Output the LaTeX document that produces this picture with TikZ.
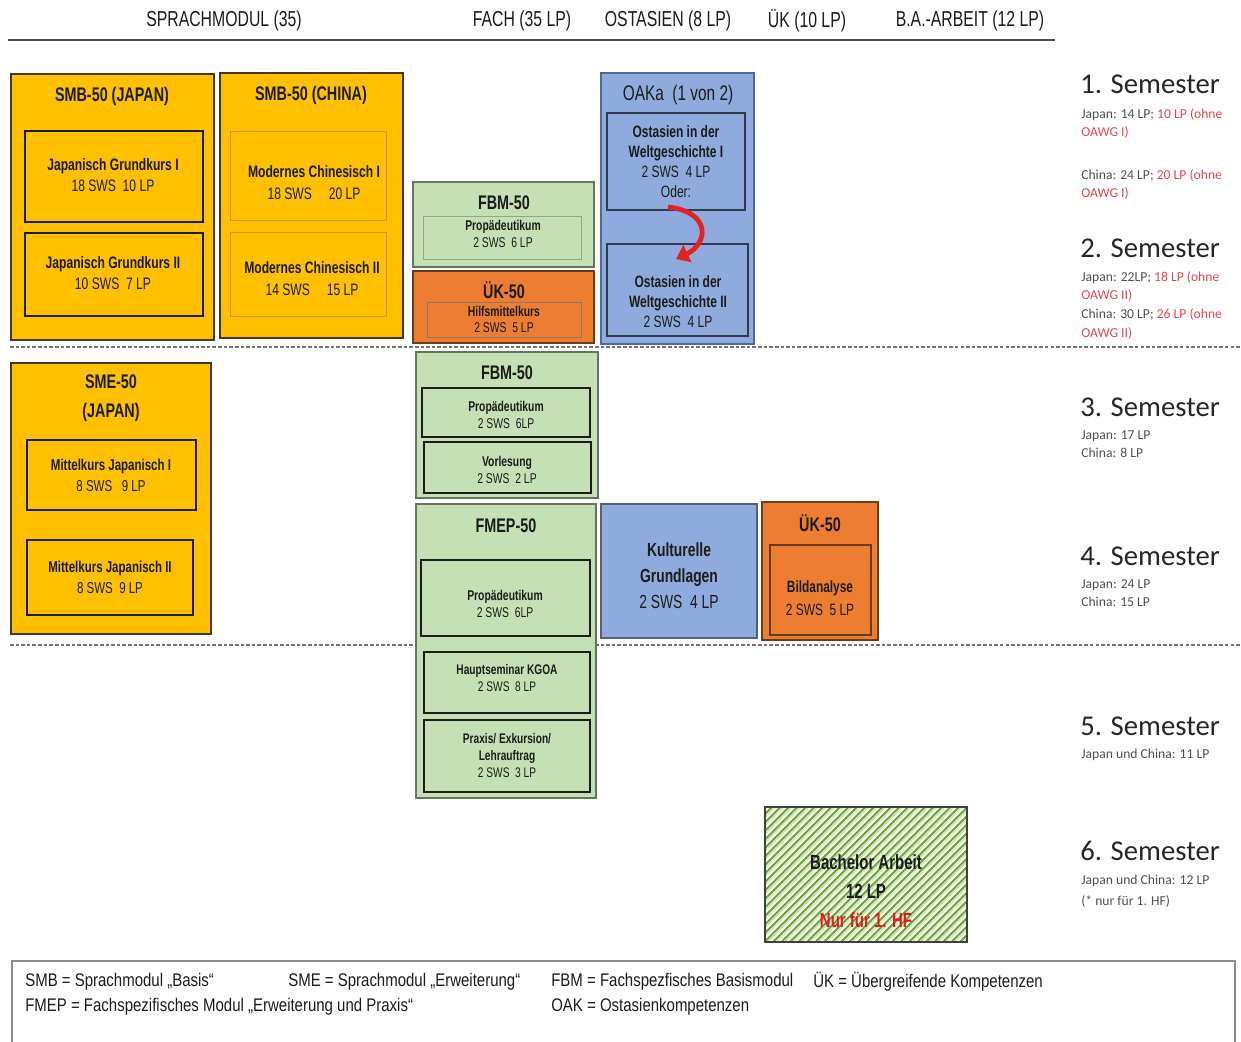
\documentclass[tikz,border=0pt]{standalone}
\usepackage{fontspec}
\setmainfont{Liberation Sans}[FakeStretch=0.73]
\newfontfamily\legfont{Liberation Sans}[FakeStretch=0.82]
\newfontfamily\semfont{Carlito}
\usetikzlibrary{fit,arrows.meta}
\definecolor{gold}{HTML}{FFC000}
\definecolor{goldline}{HTML}{43381A}
\definecolor{goldthin}{HTML}{C8962A}
\definecolor{lgreen}{HTML}{C5E0B4}
\definecolor{greenline}{HTML}{66765E}
\definecolor{greenthin}{HTML}{8FA886}
\definecolor{ukorange}{HTML}{ED7D31}
\definecolor{orangeline}{HTML}{6A3B1C}
\definecolor{oakblue}{HTML}{8FAADC}
\definecolor{blueline}{HTML}{506A98}
\definecolor{bluedark}{HTML}{2E3A4E}
\definecolor{redtext}{HTML}{E2474C}
\definecolor{subgray}{HTML}{505050}
\definecolor{textdark}{HTML}{1C1C1C}
\definecolor{stripegreen}{HTML}{62A63A}
\definecolor{stripelight}{HTML}{D3E6A6}
\definecolor{oderred}{HTML}{E52222}
\definecolor{bared}{HTML}{E41B1B}
\tikzset{
  gelb/.style={draw=goldline, fill=gold, line width=1.4pt, inner sep=0pt},
  gruen/.style={draw=greenline, fill=lgreen, line width=1.4pt, inner sep=0pt},
  ukbox/.style={draw=orangeline, fill=ukorange, line width=1.4pt, inner sep=0pt},
  oakbox/.style={draw=blueline, fill=oakblue, line width=1.4pt, inner sep=0pt},
  kurs/.style={draw=#1, line width=1.1pt, inner sep=0pt},
  kurs/.default=textdark,
  txt/.style={align=center, inner sep=0pt, text=textdark},
  titel/.style={font=\fontsize{14}{15}\selectfont\bfseries, text=textdark},
  kopf/.style={font=\fontsize{15.4}{16}\selectfont, text=textdark},
  sem/.style={font=\semfont\fontsize{20.4}{24}\selectfont, anchor=west, inner sep=0pt, text=black!85},
  semtext/.style={font=\semfont\fontsize{9.7}{13.3}\selectfont, anchor=north west, align=left, inner sep=0pt, text=subgray},
  legende/.style={font=\legfont\fontsize{13}{16}\selectfont, anchor=west, inner sep=0pt, text=textdark},
  trenn/.style={draw=black!55, line width=1.1pt, dash pattern=on 2.5pt off 1.5pt},
  oder/.style={draw=oderred, line width=3.4pt, -{Triangle[length=9pt,width=13pt]}},
  streifen/.style={draw=stripegreen, line width=1.4pt},
  streifenhell/.style={draw=stripelight, line width=1.2pt}
}
\begin{document}
\begin{tikzpicture}[x=0.025cm,y=-0.025cm]
\useasboundingbox[fill=white] (0,0) rectangle (1241,1041);

\node[kopf] (hsprache) at (224,21) {SPRACHMODUL (35)};
\node[kopf] (hfach) at (522,21) {FACH (35 LP)};
\node[kopf] (hostasien) at (668,21) {OSTASIEN (8 LP)};
\node[kopf] (huk) at (807,21) {ÜK (10 LP)};
\node[kopf] (hba) at (970,21) {B.A.-ARBEIT (12 LP)};
\coordinate (kopfl) at (8,40);
\coordinate (kopfr) at (1055,40);
\draw[black!70, line width=1.4pt] (kopfl) -- (kopfr);

\coordinate (t1l) at (10,347);
\coordinate (t1r) at (1241,347);
\coordinate (t2l) at (10,645);
\coordinate (t2r) at (1241,645);
\draw[trenn] (t1l) -- (t1r);
\draw[trenn] (t2l) -- (t2r);

\node[gelb, fit={(11,74)(214,340)}] (smbjp) {};
\node[titel] (smbjpt) at (112,96) {SMB-50 (JAPAN)};
\node[kurs, fit={(25,131)(203,222)}] (jgk1) {};
\node[txt, font=\fontsize{11.8}{15}\selectfont] (jgk1t) at (113,175.5) {{\bfseries Japanisch Grundkurs I}\\18 SWS\ \ 10 LP};
\node[kurs, fit={(25,233)(203,316)}] (jgk2) {};
\node[txt, font=\fontsize{11.8}{15}\selectfont] (jgk2t) at (113,273) {{\bfseries Japanisch Grundkurs II}\\10 SWS\ \ 7 LP};

\node[gelb, fit={(220,73)(403,338)}] (smbcn) {};
\node[titel] (smbcnt) at (311,95) {SMB-50 (CHINA)};
\node[kurs=goldthin, line width=0.6pt, fit={(230,131)(386,220)}] (mc1) {};
\node[txt, font=\fontsize{11.8}{15.6}\selectfont] (mc1t) at (314,183) {{\bfseries Modernes Chinesisch I}\\18 SWS\ \ \ \ \ 20 LP};
\node[kurs=goldthin, line width=0.6pt, fit={(230,232)(386,316)}] (mc2) {};
\node[txt, font=\fontsize{11.8}{15.6}\selectfont] (mc2t) at (312,279) {{\bfseries Modernes Chinesisch II}\\14 SWS\ \ \ \ \ 15 LP};

\node[gruen, fit={(413,182)(594,267)}] (fbm1) {};
\node[titel] (fbm1t) at (504,203) {FBM-50};
\node[kurs=greenthin, line width=0.7pt, fit={(423,216)(581,259)}] (prop1) {};
\node[txt, font=\fontsize{10.1}{12}\selectfont] (prop1t) at (503,233.5) {{\bfseries Propädeutikum}\\2 SWS\ \ 6 LP};

\node[ukbox, fit={(413,271)(594,343)}] (uk1) {};
\node[titel] (uk1t) at (504,290) {ÜK-50};
\node[kurs=orangeline!70, line width=0.7pt, fit={(427,302)(581,337)}] (hilf) {};
\node[txt, font=\fontsize{10.1}{11.4}\selectfont] (hilft) at (504,319) {{\bfseries Hilfsmittelkurs}\\2 SWS\ \ 5 LP};

\node[oakbox, fit={(601,73)(754,344)}] (oak) {};
\node[font=\fontsize{15}{16}\selectfont, text=textdark] (oakt) at (678,95) {OAKa\ \ (1 von 2)};
\node[kurs=bluedark, fit={(607,113)(745,210)}] (oawg1) {};
\node[txt, font=\fontsize{11.7}{14.2}\selectfont] (oawg1t) at (676,162) {{\bfseries Ostasien in der}\\{\bfseries Weltgeschichte I}\\2 SWS\ \ 4 LP\\Oder:};
\node[kurs=bluedark, fit={(607,244)(748,336)}] (oawg2) {};
\node[txt, font=\fontsize{11.7}{14.2}\selectfont] (oawg2t) at (678,302) {{\bfseries Ostasien in der}\\{\bfseries Weltgeschichte II}\\2 SWS\ \ 4 LP};
\coordinate (odera) at (668,207);
\coordinate (oderb) at (676,259);
\draw[oder] (odera) .. controls (712,212) and (708,244) .. (oderb);

\node[gelb, fit={(11,363)(211,634)}] (smejp) {};
\node[titel, align=center, font=\fontsize{14}{20.5}\selectfont\bfseries] (smejpt) at (111,398) {SME-50\\(JAPAN)};
\node[kurs, fit={(27,440)(196,510)}] (mk1) {};
\node[txt, font=\fontsize{11.2}{15}\selectfont] (mk1t) at (111,475.5) {{\bfseries Mittelkurs Japanisch I}\\8 SWS\ \ \ 9 LP};
\node[kurs, fit={(27,540)(193,615)}] (mk2) {};
\node[txt, font=\fontsize{11.2}{15}\selectfont] (mk2t) at (110,577.5) {{\bfseries Mittelkurs Japanisch II}\\8 SWS\ \ 9 LP};

\node[gruen, fit={(416,352)(598,498)}] (fbm3) {};
\node[titel] (fbm3t) at (507,373) {FBM-50};
\node[kurs, fit={(422,388)(590,437)}] (prop3) {};
\node[txt, font=\fontsize{10.1}{12}\selectfont] (prop3t) at (506,414.5) {{\bfseries Propädeutikum}\\2 SWS\ \ 6LP};
\node[kurs, fit={(424,442)(591,493)}] (vorl) {};
\node[txt, font=\fontsize{10.1}{12}\selectfont] (vorlt) at (507,469.5) {{\bfseries Vorlesung}\\2 SWS\ \ 2 LP};

\node[gruen, fit={(416,504)(596,798)}] (fmep) {};
\node[titel] (fmept) at (506,526) {FMEP-50};
\node[kurs, fit={(421,560)(590,636)}] (prop5) {};
\node[txt, font=\fontsize{10.1}{12}\selectfont] (prop5t) at (505,604) {{\bfseries Propädeutikum}\\2 SWS\ \ 6LP};
\node[kurs, fit={(424,652)(590,713)}] (haupt) {};
\node[txt, font=\fontsize{9.9}{12.5}\selectfont] (hauptt) at (507,678) {{\bfseries Hauptseminar KGOA}\\2 SWS\ \ 8 LP};
\node[kurs, fit={(424,720)(590,792)}] (praxis) {};
\node[txt, font=\fontsize{9.9}{12.3}\selectfont] (praxist) at (507,755.5) {{\bfseries Praxis/ Exkursion/}\\{\bfseries Lehrauftrag}\\2 SWS\ \ 3 LP};

\node[oakbox, draw=bluedark!80, fit={(601,504)(757,638)}] (kultur) {};
\node[txt, font=\fontsize{13.5}{18.5}\selectfont] (kulturt) at (679,576) {{\bfseries Kulturelle}\\{\bfseries Grundlagen}\\2 SWS\ \ 4 LP};

\node[ukbox, fit={(762,502)(878,640)}] (uk4) {};
\node[titel] (uk4t) at (820,523) {ÜK-50};
\node[kurs=orangeline, fit={(770,545)(871,635)}] (bild) {};
\node[txt, font=\fontsize{11.6}{16.4}\selectfont] (bildt) at (820,598) {{\bfseries Bildanalyse}\\2 SWS\ \ 5 LP};

\begin{scope}
\clip (765,807) rectangle (967,942);
\foreach \s in {620,628.5,...,980} {
  \draw[streifen] (\s,942) -- ++(140,-140);
  \draw[streifenhell] (\s+3,942) -- ++(140,-140);
}
\end{scope}
\node[draw=black!75, line width=1pt, inner sep=0pt, fit={(765,807)(967,942)}] (ba) {};
\node[txt, font=\fontsize{14.6}{20.5}\selectfont\bfseries] (bat) at (866,891) {Bachelor Arbeit\\12 LP\\{\color{bared}Nur für 1. HF}};

\node[sem] (s1) at (1080,84) {1. Semester};
\node[semtext] (s1j) at (1081,108) {Japan: 14 LP; \textcolor{redtext}{10 LP (ohne}\\\textcolor{redtext}{OAWG I)}};
\node[semtext] (s1c) at (1081,169) {China: 24 LP; \textcolor{redtext}{20 LP (ohne}\\\textcolor{redtext}{OAWG I)}};
\node[sem] (s2) at (1080,248) {2. Semester};
\node[semtext] (s2j) at (1081,271) {Japan: 22LP; \textcolor{redtext}{18 LP (ohne}\\\textcolor{redtext}{OAWG II)}\\China: 30 LP; \textcolor{redtext}{26 LP (ohne}\\\textcolor{redtext}{OAWG II)}};
\node[sem] (s3) at (1080,407) {3. Semester};
\node[semtext] (s3t) at (1081,430) {Japan: 17 LP\\China: 8 LP};
\node[sem] (s4) at (1080,556) {4. Semester};
\node[semtext] (s4t) at (1081,579) {Japan: 24 LP\\China: 15 LP};
\node[sem] (s5) at (1080,726) {5. Semester};
\node[semtext] (s5t) at (1081,749) {Japan und China: 11 LP};
\node[sem] (s6) at (1080,851) {6. Semester};
\node[semtext, font=\semfont\fontsize{9.7}{14.8}\selectfont] (s6t) at (1081,875) {Japan und China: 12 LP\\(* nur für 1. HF)};

\draw[black!45, line width=1.1pt] (12,1050) -- (12,961) -- (1235,961) -- (1235,1050);
\node[legende] (lsmb) at (25,982) {SMB = Sprachmodul „Basis“};
\node[legende] (lsme) at (288,982) {SME = Sprachmodul „Erweiterung“};
\node[legende] (lfbm) at (551,982) {FBM = Fachspezfisches Basismodul};
\node[legende] (luk) at (813,982) {ÜK = Übergreifende Kompetenzen};
\node[legende] (lfmep) at (25,1007) {FMEP = Fachspezifisches Modul „Erweiterung und Praxis“};
\node[legende] (loak) at (551,1007) {OAK = Ostasienkompetenzen};
\end{tikzpicture}
\end{document}
